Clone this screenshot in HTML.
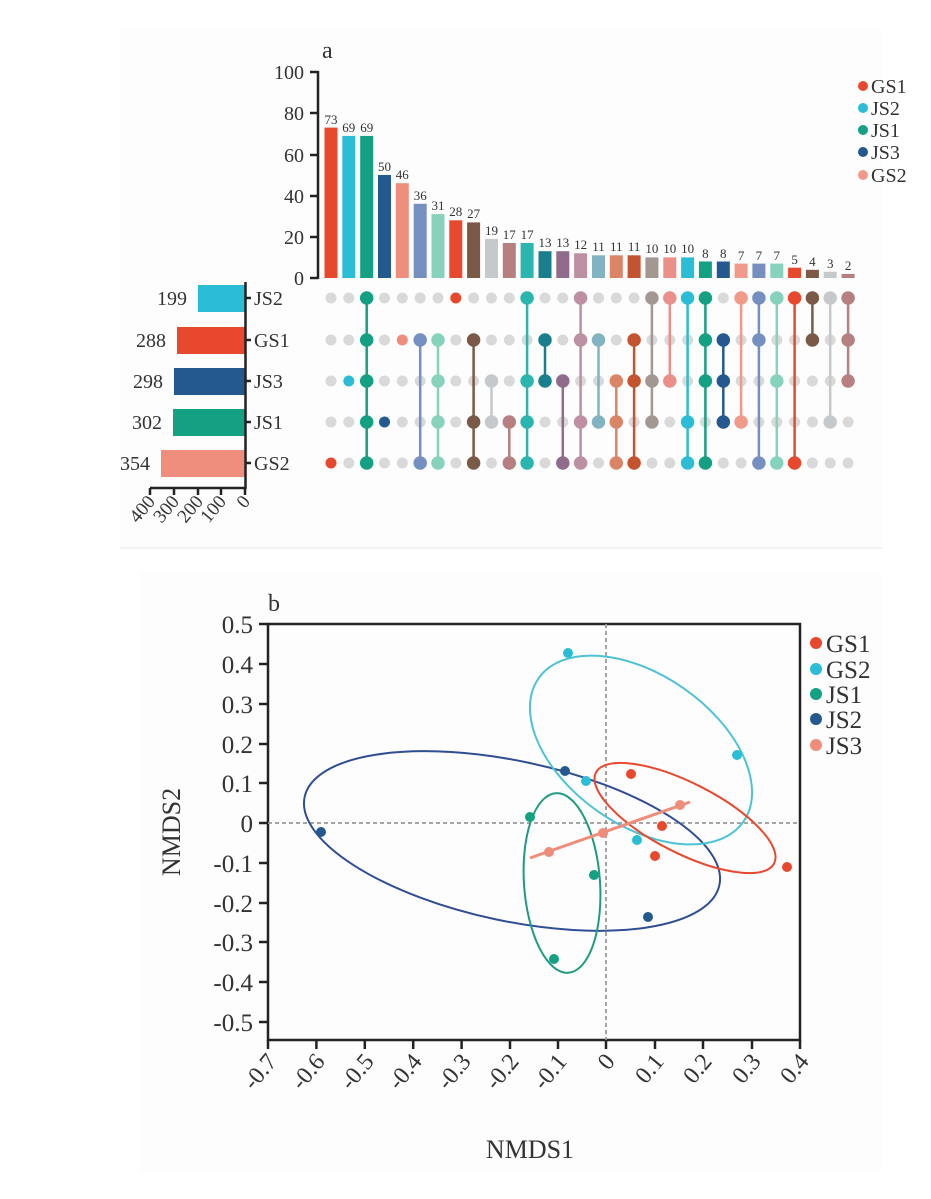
<!DOCTYPE html>
<html><head><meta charset="utf-8"><style>body{margin:0;background:#fff}svg{display:block}text{font-family:"Liberation Serif",serif;fill:#333}</style></head><body>
<svg width="931" height="1199" viewBox="0 0 931 1199" xmlns="http://www.w3.org/2000/svg">
<rect x="120" y="28" width="762" height="520" fill="#fdfdfd"/>
<line x1="120" y1="548" x2="882" y2="548" stroke="#e6e6e6"/>
<rect x="140" y="572" width="742" height="600" fill="#fdfdfd"/>
<!-- panel a -->
<text x="322" y="58" font-size="24">a</text>
<g stroke="#222" stroke-width="2.5"><line x1="318" y1="71" x2="318" y2="279"/>
<line x1="310" y1="72" x2="318" y2="72"/><line x1="310" y1="113" x2="318" y2="113"/><line x1="310" y1="155" x2="318" y2="155"/><line x1="310" y1="196" x2="318" y2="196"/><line x1="310" y1="237" x2="318" y2="237"/><line x1="310" y1="278" x2="318" y2="278"/></g>
<g font-size="20" text-anchor="end"><text x="304" y="79">100</text><text x="304" y="120">80</text><text x="304" y="162">60</text><text x="304" y="203">40</text><text x="304" y="244">20</text><text x="304" y="285">0</text></g>
<g>
<rect x="324.5" y="127.6" width="13" height="150.4" fill="#e8492e"/>
<rect x="342.3" y="135.9" width="13" height="142.1" fill="#2bbdd6"/>
<rect x="360.2" y="135.9" width="13" height="142.1" fill="#14a083"/>
<rect x="378" y="175" width="13" height="103" fill="#24598f"/>
<rect x="395.8" y="183.2" width="13" height="94.8" fill="#f08e7e"/>
<rect x="413.7" y="203.8" width="13" height="74.2" fill="#7590c0"/>
<rect x="431.5" y="214.1" width="13" height="63.9" fill="#86d2bd"/>
<rect x="449.3" y="220.3" width="13" height="57.7" fill="#e8492e"/>
<rect x="467.1" y="222.4" width="13" height="55.6" fill="#7a5a47"/>
<rect x="485" y="238.9" width="13" height="39.1" fill="#c5c9cc"/>
<rect x="502.8" y="243" width="13" height="35" fill="#b5807f"/>
<rect x="520.6" y="243" width="13" height="35" fill="#2ab5ae"/>
<rect x="538.5" y="251.2" width="13" height="26.8" fill="#1a7f8c"/>
<rect x="556.3" y="251.2" width="13" height="26.8" fill="#906b8c"/>
<rect x="574.1" y="253.3" width="13" height="24.7" fill="#bc90a2"/>
<rect x="592" y="255.3" width="13" height="22.7" fill="#82b3c0"/>
<rect x="609.8" y="255.3" width="13" height="22.7" fill="#da8468"/>
<rect x="627.6" y="255.3" width="13" height="22.7" fill="#c4532f"/>
<rect x="645.4" y="257.4" width="13" height="20.6" fill="#a39791"/>
<rect x="663.3" y="257.4" width="13" height="20.6" fill="#ea8f8a"/>
<rect x="681.1" y="257.4" width="13" height="20.6" fill="#2bbdd6"/>
<rect x="698.9" y="261.5" width="13" height="16.5" fill="#14a083"/>
<rect x="716.8" y="261.5" width="13" height="16.5" fill="#24598f"/>
<rect x="734.6" y="263.6" width="13" height="14.4" fill="#f29a8a"/>
<rect x="752.4" y="263.6" width="13" height="14.4" fill="#7590c0"/>
<rect x="770.3" y="263.6" width="13" height="14.4" fill="#86d2bd"/>
<rect x="788.1" y="267.7" width="13" height="10.3" fill="#e8492e"/>
<rect x="805.9" y="269.8" width="13" height="8.2" fill="#7a5a47"/>
<rect x="823.7" y="271.8" width="13" height="6.2" fill="#c5c9cc"/>
<rect x="841.6" y="273.9" width="13" height="4.1" fill="#b5807f"/>
</g>
<g font-size="13" text-anchor="middle">
<text x="331" y="124">73</text><text x="348.8" y="132">69</text><text x="366.7" y="132">69</text><text x="384.5" y="171">50</text><text x="402.3" y="179">46</text><text x="420.2" y="200">36</text><text x="438" y="210">31</text><text x="455.8" y="216">28</text><text x="473.6" y="218">27</text><text x="491.5" y="235">19</text><text x="509.3" y="239">17</text><text x="527.1" y="239">17</text><text x="545" y="247">13</text><text x="562.8" y="247">13</text><text x="580.6" y="249">12</text><text x="598.5" y="251">11</text><text x="616.3" y="251">11</text><text x="634.1" y="251">11</text><text x="651.9" y="253">10</text><text x="669.8" y="253">10</text><text x="687.6" y="253">10</text><text x="705.4" y="258">8</text><text x="723.3" y="258">8</text><text x="741.1" y="260">7</text><text x="758.9" y="260">7</text><text x="776.8" y="260">7</text><text x="794.6" y="264">5</text><text x="812.4" y="266">4</text><text x="830.2" y="268">3</text><text x="848.1" y="270">2</text>
</g>
<!-- legend a -->
<g font-size="20"><circle cx="863" cy="86" r="5" fill="#e8492e"/><text x="871" y="93">GS1</text>
<circle cx="863" cy="108" r="5" fill="#2bbdd6"/><text x="871" y="115">JS2</text>
<circle cx="863" cy="130" r="5" fill="#14a083"/><text x="871" y="137">JS1</text>
<circle cx="863" cy="152" r="5" fill="#24598f"/><text x="871" y="159">JS3</text>
<circle cx="863" cy="175" r="5" fill="#f29a8a"/><text x="871" y="182">GS2</text></g>
<!-- set sizes -->
<rect x="198" y="285" width="47" height="27" fill="#2bbdd6"/>
<rect x="177" y="327" width="68" height="27" fill="#e8492e"/>
<rect x="174" y="368" width="71" height="27" fill="#24598f"/>
<rect x="173" y="409" width="72" height="27" fill="#14a083"/>
<rect x="161" y="450" width="84" height="27" fill="#f08e7e"/>
<g font-size="20" text-anchor="end"><text x="187" y="305">199</text><text x="166" y="347">288</text><text x="163" y="388">298</text><text x="162" y="429">302</text><text x="150" y="470">354</text></g>
<g font-size="20"><text x="254" y="305">JS2</text><text x="254" y="347">GS1</text><text x="254" y="388">JS3</text><text x="254" y="429">JS1</text><text x="254" y="470">GS2</text></g>
<g stroke="#222" stroke-width="2.5"><line x1="245.5" y1="282" x2="245.5" y2="489"/><line x1="150" y1="488" x2="246" y2="488"/>
<line x1="150" y1="488" x2="150" y2="495"/><line x1="174" y1="488" x2="174" y2="495"/><line x1="198" y1="488" x2="198" y2="495"/><line x1="221" y1="488" x2="221" y2="495"/><line x1="245" y1="488" x2="245" y2="495"/>
<line x1="245" y1="298" x2="251" y2="298"/><line x1="245" y1="340" x2="251" y2="340"/><line x1="245" y1="381" x2="251" y2="381"/><line x1="245" y1="422" x2="251" y2="422"/><line x1="245" y1="463" x2="251" y2="463"/></g>
<g font-size="19" text-anchor="end">
<text transform="translate(156,502) rotate(-50)">400</text>
<text transform="translate(180,502) rotate(-50)">300</text>
<text transform="translate(204,502) rotate(-50)">200</text>
<text transform="translate(227,502) rotate(-50)">100</text>
<text transform="translate(251,502) rotate(-50)">0</text></g>
<!-- matrix gray dots -->
<g fill="#d9d9d9" id="gd">
<circle cx="331" cy="298" r="5.5"/><circle cx="348.8" cy="298" r="5.5"/><circle cx="384.5" cy="298" r="5.5"/><circle cx="402.3" cy="298" r="5.5"/><circle cx="420.2" cy="298" r="5.5"/><circle cx="438" cy="298" r="5.5"/><circle cx="473.6" cy="298" r="5.5"/><circle cx="491.5" cy="298" r="5.5"/><circle cx="509.3" cy="298" r="5.5"/><circle cx="545" cy="298" r="5.5"/><circle cx="562.8" cy="298" r="5.5"/><circle cx="598.5" cy="298" r="5.5"/><circle cx="616.3" cy="298" r="5.5"/><circle cx="634.1" cy="298" r="5.5"/><circle cx="723.3" cy="298" r="5.5"/>
<circle cx="331" cy="340" r="5.5"/><circle cx="348.8" cy="340" r="5.5"/><circle cx="384.5" cy="340" r="5.5"/><circle cx="455.8" cy="340" r="5.5"/><circle cx="491.5" cy="340" r="5.5"/><circle cx="509.3" cy="340" r="5.5"/><circle cx="527.1" cy="340" r="5.5"/><circle cx="562.8" cy="340" r="5.5"/><circle cx="616.3" cy="340" r="5.5"/><circle cx="651.9" cy="340" r="5.5"/><circle cx="669.8" cy="340" r="5.5"/><circle cx="687.6" cy="340" r="5.5"/><circle cx="741.1" cy="340" r="5.5"/><circle cx="776.8" cy="340" r="5.5"/><circle cx="794.6" cy="340" r="5.5"/><circle cx="830.2" cy="340" r="5.5"/>
<circle cx="331" cy="381" r="5.5"/><circle cx="384.5" cy="381" r="5.5"/><circle cx="402.3" cy="381" r="5.5"/><circle cx="420.2" cy="381" r="5.5"/><circle cx="455.8" cy="381" r="5.5"/><circle cx="473.6" cy="381" r="5.5"/><circle cx="509.3" cy="381" r="5.5"/><circle cx="580.6" cy="381" r="5.5"/><circle cx="598.5" cy="381" r="5.5"/><circle cx="687.6" cy="381" r="5.5"/><circle cx="741.1" cy="381" r="5.5"/><circle cx="758.9" cy="381" r="5.5"/><circle cx="794.6" cy="381" r="5.5"/><circle cx="812.4" cy="381" r="5.5"/><circle cx="830.2" cy="381" r="5.5"/>
<circle cx="331" cy="422" r="5.5"/><circle cx="348.8" cy="422" r="5.5"/><circle cx="402.3" cy="422" r="5.5"/><circle cx="420.2" cy="422" r="5.5"/><circle cx="455.8" cy="422" r="5.5"/><circle cx="545" cy="422" r="5.5"/><circle cx="562.8" cy="422" r="5.5"/><circle cx="634.1" cy="422" r="5.5"/><circle cx="669.8" cy="422" r="5.5"/><circle cx="705.4" cy="422" r="5.5"/><circle cx="758.9" cy="422" r="5.5"/><circle cx="776.8" cy="422" r="5.5"/><circle cx="794.6" cy="422" r="5.5"/><circle cx="812.4" cy="422" r="5.5"/><circle cx="848.1" cy="422" r="5.5"/>
<circle cx="348.8" cy="463" r="5.5"/><circle cx="384.5" cy="463" r="5.5"/><circle cx="402.3" cy="463" r="5.5"/><circle cx="455.8" cy="463" r="5.5"/><circle cx="491.5" cy="463" r="5.5"/><circle cx="545" cy="463" r="5.5"/><circle cx="598.5" cy="463" r="5.5"/><circle cx="651.9" cy="463" r="5.5"/><circle cx="669.8" cy="463" r="5.5"/><circle cx="723.3" cy="463" r="5.5"/><circle cx="741.1" cy="463" r="5.5"/><circle cx="812.4" cy="463" r="5.5"/><circle cx="830.2" cy="463" r="5.5"/><circle cx="848.1" cy="463" r="5.5"/>
</g>
<!-- matrix colored -->
<g stroke-width="2.5">
<circle cx="331" cy="463" r="5.5" fill="#e8492e"/>
<circle cx="348.8" cy="381" r="5.5" fill="#2bbdd6"/>
<g stroke="#14a083" fill="#14a083"><line x1="366.7" y1="298" x2="366.7" y2="463"/><circle cx="366.7" cy="298" r="5.5"/><circle cx="366.7" cy="340" r="5.5"/><circle cx="366.7" cy="381" r="5.5"/><circle cx="366.7" cy="422" r="5.5"/><circle cx="366.7" cy="463" r="5.5"/></g>
<circle cx="384.5" cy="422" r="5.5" fill="#24598f"/>
<circle cx="402.3" cy="340" r="5.5" fill="#f08e7e"/>
<g stroke="#7590c0" fill="#7590c0"><line x1="420.2" y1="340" x2="420.2" y2="463"/><circle cx="420.2" cy="340" r="5.5"/><circle cx="420.2" cy="463" r="5.5"/></g>
<g stroke="#86d2bd" fill="#86d2bd"><line x1="438" y1="340" x2="438" y2="463"/><circle cx="438" cy="340" r="5.5"/><circle cx="438" cy="381" r="5.5"/><circle cx="438" cy="422" r="5.5"/><circle cx="438" cy="463" r="5.5"/></g>
<circle cx="455.8" cy="298" r="5.5" fill="#e8492e"/>
<g stroke="#7a5a47" fill="#7a5a47"><line x1="473.6" y1="340" x2="473.6" y2="463"/><circle cx="473.6" cy="340" r="5.5"/><circle cx="473.6" cy="422" r="5.5"/><circle cx="473.6" cy="463" r="5.5"/></g>
<g stroke="#c5c9cc" fill="#c5c9cc"><line x1="491.5" y1="381" x2="491.5" y2="422"/><circle cx="491.5" cy="381" r="5.5"/><circle cx="491.5" cy="422" r="5.5"/></g>
<g stroke="#b5807f" fill="#b5807f"><line x1="509.3" y1="422" x2="509.3" y2="463"/><circle cx="509.3" cy="422" r="5.5"/><circle cx="509.3" cy="463" r="5.5"/></g>
<g stroke="#2ab5ae" fill="#2ab5ae"><line x1="527.1" y1="298" x2="527.1" y2="463"/><circle cx="527.1" cy="298" r="5.5"/><circle cx="527.1" cy="381" r="5.5"/><circle cx="527.1" cy="422" r="5.5"/><circle cx="527.1" cy="463" r="5.5"/></g>
<g stroke="#1a7f8c" fill="#1a7f8c"><line x1="545" y1="340" x2="545" y2="381"/><circle cx="545" cy="340" r="5.5"/><circle cx="545" cy="381" r="5.5"/></g>
<g stroke="#906b8c" fill="#906b8c"><line x1="562.8" y1="381" x2="562.8" y2="463"/><circle cx="562.8" cy="381" r="5.5"/><circle cx="562.8" cy="463" r="5.5"/></g>
<g stroke="#bc90a2" fill="#bc90a2"><line x1="580.6" y1="298" x2="580.6" y2="463"/><circle cx="580.6" cy="298" r="5.5"/><circle cx="580.6" cy="340" r="5.5"/><circle cx="580.6" cy="422" r="5.5"/><circle cx="580.6" cy="463" r="5.5"/></g>
<g stroke="#82b3c0" fill="#82b3c0"><line x1="598.5" y1="340" x2="598.5" y2="422"/><circle cx="598.5" cy="340" r="5.5"/><circle cx="598.5" cy="422" r="5.5"/></g>
<g stroke="#da8468" fill="#da8468"><line x1="616.3" y1="381" x2="616.3" y2="463"/><circle cx="616.3" cy="381" r="5.5"/><circle cx="616.3" cy="422" r="5.5"/><circle cx="616.3" cy="463" r="5.5"/></g>
<g stroke="#c4532f" fill="#c4532f"><line x1="634.1" y1="340" x2="634.1" y2="463"/><circle cx="634.1" cy="340" r="5.5"/><circle cx="634.1" cy="381" r="5.5"/><circle cx="634.1" cy="463" r="5.5"/></g>
<g stroke="#a39791" fill="#a39791"><line x1="651.9" y1="298" x2="651.9" y2="422"/><circle cx="651.9" cy="298" r="5.5"/><circle cx="651.9" cy="381" r="5.5"/><circle cx="651.9" cy="422" r="5.5"/></g>
<g stroke="#ea8f8a" fill="#ea8f8a"><line x1="669.8" y1="298" x2="669.8" y2="381"/><circle cx="669.8" cy="298" r="5.5"/><circle cx="669.8" cy="381" r="5.5"/></g>
<g stroke="#2bbdd6" fill="#2bbdd6"><line x1="687.6" y1="298" x2="687.6" y2="463"/><circle cx="687.6" cy="298" r="5.5"/><circle cx="687.6" cy="422" r="5.5"/><circle cx="687.6" cy="463" r="5.5"/></g>
<g stroke="#14a083" fill="#14a083"><line x1="705.4" y1="298" x2="705.4" y2="463"/><circle cx="705.4" cy="298" r="5.5"/><circle cx="705.4" cy="340" r="5.5"/><circle cx="705.4" cy="381" r="5.5"/><circle cx="705.4" cy="463" r="5.5"/></g>
<g stroke="#24598f" fill="#24598f"><line x1="723.3" y1="340" x2="723.3" y2="422"/><circle cx="723.3" cy="340" r="5.5"/><circle cx="723.3" cy="381" r="5.5"/><circle cx="723.3" cy="422" r="5.5"/></g>
<g stroke="#f29a8a" fill="#f29a8a"><line x1="741.1" y1="298" x2="741.1" y2="422"/><circle cx="741.1" cy="298" r="5.5"/><circle cx="741.1" cy="422" r="5.5"/></g>
<g stroke="#7590c0" fill="#7590c0"><line x1="758.9" y1="298" x2="758.9" y2="463"/><circle cx="758.9" cy="298" r="5.5"/><circle cx="758.9" cy="340" r="5.5"/><circle cx="758.9" cy="463" r="5.5"/></g>
<g stroke="#86d2bd" fill="#86d2bd"><line x1="776.8" y1="298" x2="776.8" y2="463"/><circle cx="776.8" cy="298" r="5.5"/><circle cx="776.8" cy="381" r="5.5"/><circle cx="776.8" cy="463" r="5.5"/></g>
<g stroke="#e8492e" fill="#e8492e"><line x1="794.6" y1="298" x2="794.6" y2="463"/><circle cx="794.6" cy="298" r="5.5"/><circle cx="794.6" cy="463" r="5.5"/></g>
<g stroke="#7a5a47" fill="#7a5a47"><line x1="812.4" y1="298" x2="812.4" y2="340"/><circle cx="812.4" cy="298" r="5.5"/><circle cx="812.4" cy="340" r="5.5"/></g>
<g stroke="#c5c9cc" fill="#c5c9cc"><line x1="830.2" y1="298" x2="830.2" y2="422"/><circle cx="830.2" cy="298" r="5.5"/><circle cx="830.2" cy="422" r="5.5"/></g>
<g stroke="#b5807f" fill="#b5807f"><line x1="848.1" y1="298" x2="848.1" y2="381"/><circle cx="848.1" cy="298" r="5.5"/><circle cx="848.1" cy="340" r="5.5"/><circle cx="848.1" cy="381" r="5.5"/></g>
</g>

<!-- panel b -->
<text x="268" y="611" font-size="24">b</text>
<rect x="268" y="624" width="532" height="416" fill="none" stroke="#222" stroke-width="2.5"/>
<line x1="268" y1="823" x2="800" y2="823" stroke="#999" stroke-width="1.8" stroke-dasharray="4,3"/>
<line x1="606" y1="624" x2="606" y2="1040" stroke="#999" stroke-width="1.8" stroke-dasharray="4,3"/>
<g stroke="#222" stroke-width="2.5">
<line x1="259" y1="624" x2="268" y2="624"/><line x1="259" y1="664" x2="268" y2="664"/><line x1="259" y1="704" x2="268" y2="704"/><line x1="259" y1="744" x2="268" y2="744"/><line x1="259" y1="783" x2="268" y2="783"/><line x1="259" y1="823" x2="268" y2="823"/><line x1="259" y1="863" x2="268" y2="863"/><line x1="259" y1="903" x2="268" y2="903"/><line x1="259" y1="942" x2="268" y2="942"/><line x1="259" y1="982" x2="268" y2="982"/><line x1="259" y1="1022" x2="268" y2="1022"/>
<line x1="268" y1="1040" x2="268" y2="1049"/><line x1="316.4" y1="1040" x2="316.4" y2="1049"/><line x1="364.8" y1="1040" x2="364.8" y2="1049"/><line x1="413.2" y1="1040" x2="413.2" y2="1049"/><line x1="461.6" y1="1040" x2="461.6" y2="1049"/><line x1="510" y1="1040" x2="510" y2="1049"/><line x1="558" y1="1040" x2="558" y2="1049"/><line x1="606" y1="1040" x2="606" y2="1049"/><line x1="655" y1="1040" x2="655" y2="1049"/><line x1="703" y1="1040" x2="703" y2="1049"/><line x1="752" y1="1040" x2="752" y2="1049"/><line x1="800" y1="1040" x2="800" y2="1049"/>
</g>
<g font-size="25" text-anchor="end">
<text x="253" y="633">0.5</text><text x="253" y="673">0.4</text><text x="253" y="713">0.3</text><text x="253" y="753">0.2</text><text x="253" y="792">0.1</text><text x="253" y="832">0</text><text x="253" y="872">-0.1</text><text x="253" y="912">-0.2</text><text x="253" y="951">-0.3</text><text x="253" y="991">-0.4</text><text x="253" y="1031">-0.5</text>
</g>
<g font-size="24" text-anchor="end">
<text transform="translate(278,1062) rotate(-50)">-0.7</text>
<text transform="translate(326,1062) rotate(-50)">-0.6</text>
<text transform="translate(375,1062) rotate(-50)">-0.5</text>
<text transform="translate(423,1062) rotate(-50)">-0.4</text>
<text transform="translate(472,1062) rotate(-50)">-0.3</text>
<text transform="translate(520,1062) rotate(-50)">-0.2</text>
<text transform="translate(568,1062) rotate(-50)">-0.1</text>
<text transform="translate(616,1062) rotate(-50)">0</text>
<text transform="translate(665,1062) rotate(-50)">0.1</text>
<text transform="translate(713,1062) rotate(-50)">0.2</text>
<text transform="translate(762,1062) rotate(-50)">0.3</text>
<text transform="translate(810,1062) rotate(-50)">0.4</text>
</g>
<text x="530" y="1158" font-size="26" text-anchor="middle">NMDS1</text>
<text transform="translate(180,832) rotate(-90)" font-size="26" text-anchor="middle">NMDS2</text>
<!-- ellipses -->
<g fill="none" stroke-width="2">
<ellipse cx="512" cy="841" rx="212" ry="80" transform="rotate(12 512 841)" stroke="#2f4e93"/>
<ellipse cx="641" cy="750" rx="125" ry="75" transform="rotate(35 641 750)" stroke="#4dc2d6"/>
<ellipse cx="685" cy="818" rx="100" ry="35" transform="rotate(27 685 818)" stroke="#e8492e"/>
<ellipse cx="562" cy="883" rx="38" ry="90" transform="rotate(-4 562 883)" stroke="#1f9c80"/>
</g>
<line x1="530" y1="858" x2="690" y2="802" stroke="#ef8d7b" stroke-width="3"/>
<g>
<circle cx="631" cy="774" r="5" fill="#e8492e"/><circle cx="662" cy="826" r="5" fill="#e8492e"/><circle cx="655" cy="856" r="5" fill="#e8492e"/><circle cx="787" cy="867" r="5" fill="#e8492e"/>
<circle cx="568" cy="653" r="5" fill="#2bbdd6"/><circle cx="737" cy="755" r="5" fill="#2bbdd6"/><circle cx="586" cy="781" r="5" fill="#2bbdd6"/><circle cx="637" cy="840" r="5" fill="#2bbdd6"/>
<circle cx="530" cy="817" r="5" fill="#14a083"/><circle cx="594" cy="875" r="5" fill="#14a083"/><circle cx="554" cy="959" r="5" fill="#14a083"/>
<circle cx="321" cy="832" r="5" fill="#24598f"/><circle cx="565" cy="771" r="5" fill="#24598f"/><circle cx="648" cy="917" r="5" fill="#24598f"/>
<circle cx="549" cy="852" r="5" fill="#ef8d7b"/><circle cx="603" cy="833" r="5" fill="#ef8d7b"/><circle cx="680" cy="805" r="5" fill="#ef8d7b"/>
</g>
<g font-size="25">
<circle cx="816" cy="643" r="6" fill="#e8492e"/><text x="826" y="652">GS1</text>
<circle cx="816" cy="669" r="6" fill="#2bbdd6"/><text x="826" y="678">GS2</text>
<circle cx="816" cy="694" r="6" fill="#14a083"/><text x="826" y="703">JS1</text>
<circle cx="816" cy="719" r="6" fill="#24598f"/><text x="826" y="728">JS2</text>
<circle cx="816" cy="745" r="6" fill="#ef8d7b"/><text x="826" y="754">JS3</text>
</g>
</svg>
</body></html>
